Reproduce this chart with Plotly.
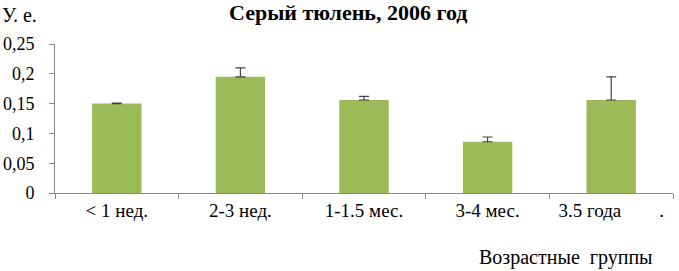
import plotly.graph_objects as go

categories = ["< 1 нед.", "2-3 нед.", "1-1.5 мес.", "3-4 мес.", "3.5 года" + "\u00a0" * 8 + "."]
values = [0.150, 0.195, 0.156, 0.086, 0.156]
errors = [0.001, 0.015, 0.006, 0.008, 0.039]
ytickvals = [0, 0.05, 0.1, 0.15, 0.2, 0.25]

FONT = "Liberation Serif"

fig = go.Figure()
fig.add_trace(go.Bar(
    x=categories, y=values,
    marker=dict(color="#9BBB59", line=dict(width=0)),
    width=0.4,
    error_y=dict(type="data", array=errors, symmetric=False, arrayminus=[0]*5,
                 color="#404040", thickness=1.2, width=5),
))

fig.update_layout(
    width=679, height=271,
    margin=dict(l=55, r=6, t=44, b=78),
    paper_bgcolor="white", plot_bgcolor="white",
    separators=", ",
    showlegend=False,
    font=dict(family=FONT, size=18, color="#000000"),
    xaxis=dict(showline=True, linecolor="#888888", linewidth=1,
               ticks="outside", tickson="boundaries", ticklen=5, tickcolor="#888888",
               showgrid=False, tickfont=dict(family=FONT, size=19), automargin=False),
    yaxis=dict(range=[0, 0.25], tickvals=ytickvals, showline=True, linecolor="#888888",
               linewidth=1, ticks="outside", ticklen=5, tickcolor="#888888",
               ticklabelstandoff=11, automargin=False,
               showgrid=False, zeroline=False, tickfont=dict(family=FONT, size=18)),
    annotations=[
        dict(text="<b>Серый тюлень, 2006 год</b>", xref="paper", yref="paper",
             x=(348 - 55) / 618, y=1 + (44 - 13) / 149, xanchor="center", yanchor="middle",
             showarrow=False, font=dict(family=FONT, size=22)),
        dict(text="У. е.", xref="paper", yref="paper",
             x=-55 / 618, y=1 + (44 - 15) / 149, xanchor="left", yanchor="middle",
             showarrow=False, font=dict(family=FONT, size=20)),
        dict(text="Возрастные  группы", xref="paper", yref="paper",
             x=(566 - 55) / 618, y=-(257 - 193) / 149, xanchor="center", yanchor="middle",
             showarrow=False, font=dict(family=FONT, size=20)),
    ],
)

fig.write_html("out.html", config={"displayModeBar": False},
               post_script="document.body.style.margin='0';document.body.style.padding='0';")
